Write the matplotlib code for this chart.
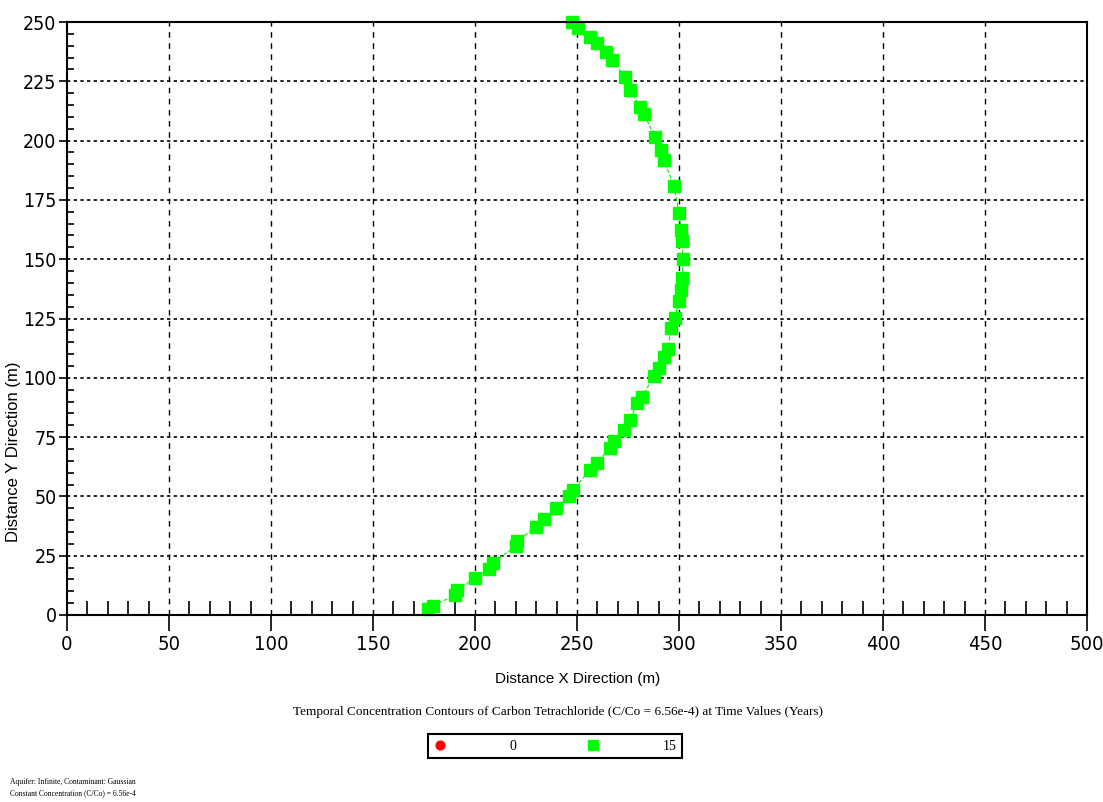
import matplotlib.pyplot as plt
from matplotlib.ticker import MultipleLocator

# contour points, t = 15 years
x15 = [177, 179.4, 190.2, 191.2, 200, 206.9, 208.8, 220, 220.6, 229.9, 233.8, 239.7,
       246, 248, 256.4, 259.8, 266.2, 268.1, 273, 276, 279.4, 281.9, 287.7, 290.2,
       292.6, 294.6, 296.1, 298, 300, 301, 301.5, 302, 301.5, 301, 300, 297.5,
       292.6, 291.2, 288.2, 282.8, 280.9, 276, 273.5, 267.2, 264.2, 259.8, 256.4,
       250.5, 247.5]
y15 = [2.5, 3.8, 8.4, 10.5, 15.6, 19.4, 21.9, 29.1, 31.2, 37.1, 40.5, 45.1,
       50.2, 52.7, 61.1, 64.1, 70.4, 73.4, 78, 82.2, 89.4, 91.9, 100.8, 104.1,
       108.8, 112.1, 121, 125.2, 132.4, 137, 142, 150, 157.7, 162.3, 169.5, 180.9,
       191.8, 196, 201.5, 211.2, 214.2, 221.3, 226.8, 234, 237.4, 241.1, 243.7,
       247.5, 250]
# t = 0 contour has no visible points
x0 = []
y0 = []
time_labels = ["0", "15"]

tick_font = {"family": "DejaVu Sans", "stretch": "condensed"}

fig = plt.figure(figsize=(11.03, 8.02), dpi=100)
ax = fig.add_axes([67/1103, 1 - 615/802, (1087 - 67)/1103, (615 - 22)/802])

h0, = ax.plot(x0, y0, linestyle="none", marker="o", color="red", markersize=7)
h15, = ax.plot(x15, y15, linestyle="--", linewidth=0.8, color="#00ee00",
               marker="s", markersize=8, markerfacecolor="#00ff00",
               markeredgecolor="#00ff00", clip_on=False)

ax.set_xlim(0, 500)
ax.set_ylim(0, 250)
ax.xaxis.set_major_locator(MultipleLocator(50))
ax.xaxis.set_minor_locator(MultipleLocator(10))
ax.yaxis.set_major_locator(MultipleLocator(25))
ax.yaxis.set_minor_locator(MultipleLocator(5))

for x in range(50, 500, 50):
    ax.axvline(x, color="black", linewidth=1, linestyle=(0, (4, 4)), zorder=0)
for y in range(25, 250, 25):
    ax.axhline(y, color="black", linewidth=1.2, linestyle=(0, (2, 2)), zorder=0)

ax.tick_params(axis="x", which="major", direction="out", length=11.5, width=1.2,
               labelsize=14.5, pad=3)
ax.tick_params(axis="x", which="minor", direction="in", length=10, width=1.2)
ax.tick_params(axis="y", which="major", direction="out", length=6, width=1.2,
               labelsize=14, pad=1.5)
ax.tick_params(axis="y", which="minor", direction="in", length=5, width=1.2)
for lab in ax.get_xticklabels() + ax.get_yticklabels():
    lab.set_fontfamily(tick_font["family"])
    lab.set_fontstretch(tick_font["stretch"])

for s in ax.spines.values():
    s.set_linewidth(1.5)

fig.text(578/1103, 1 - 679/802, "Distance X Direction (m)", ha="center", va="center",
         fontsize=11, family="Liberation Sans")
fig.text(14/1103, 1 - 452/802, "Distance Y Direction (m)", ha="center", va="center",
         rotation=90, fontsize=12, family="Liberation Sans")

fig.text(558/1103, 1 - 712/802,
         "Temporal Concentration Contours of Carbon Tetrachloride (C/Co = 6.56e-4) at Time Values (Years)",
         ha="center", va="center", fontsize=9.5, family="Liberation Serif")

leg = fig.legend([h0, h15], time_labels, loc="center", bbox_to_anchor=(555/1103, 1 - 746/802),
                 ncol=2, handlelength=1, handletextpad=4.5, columnspacing=5.0,
                 fancybox=False, edgecolor="black", framealpha=1,
                 prop={"family": "Liberation Serif", "size": 10},
                 borderpad=0.4, markerscale=0.9)
leg.get_frame().set_linewidth(1.5)
leg.legend_handles[1].set_linestyle("none")

fig.text(10/1103, 1 - 782/802, "Aquifer: Infinite, Contaminant: Gaussian",
         ha="left", va="center", fontsize=5.5, family="Liberation Serif")
fig.text(10/1103, 1 - 793/802, "Constant Concentration (C/Co) = 6.56e-4",
         ha="left", va="center", fontsize=5.5, family="Liberation Serif")

fig.savefig("out.png", dpi=100)
